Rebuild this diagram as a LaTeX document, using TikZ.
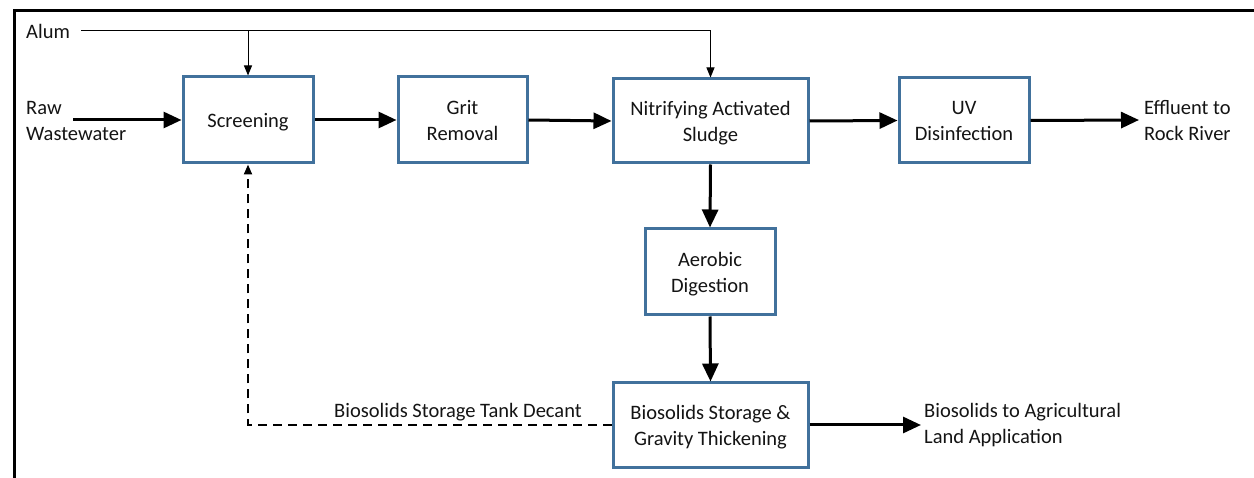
\documentclass[tikz,border=0pt]{standalone}
\usepackage{fontspec}
\setmainfont{Carlito}
\usetikzlibrary{arrows.meta,calc}
\definecolor{boxblue}{RGB}{65,113,156}
\definecolor{txt}{RGB}{20,20,20}
\tikzset{
  procbox/.style={draw=boxblue, line width=3pt, fill=white, align=center, inner sep=0pt, text=txt, text depth=0pt},
  lbl/.style={align=left, inner sep=0pt, text=txt, anchor=west},
  flow/.style={line width=3pt, -{Triangle[length=18pt,width=16pt]}},
  thinflow/.style={line width=1pt, -{Triangle[length=10pt,width=8pt]}},
  decant/.style={line width=2pt, dash pattern=on 9pt off 6pt, -{Triangle[length=10pt,width=8pt]}}
}
\begin{document}
\begin{tikzpicture}[x=1pt,y=-1pt,font=\fontsize{20.5}{26}\selectfont]
\useasboundingbox (0,0) rectangle (1254,478);
% frame
\draw[line width=3pt] (1254,11) -- (14,11) -- (14,478);
% boxes
\node[procbox, minimum width=130pt, minimum height=86pt] (scr) at (248,120) {Screening};
\node[procbox, minimum width=129pt, minimum height=86pt] (grit) at (462.5,120) {Grit\\Removal};
\node[procbox, minimum width=195pt, minimum height=84pt] (nas) at (710.5,121) {Nitrifying Activated\\Sludge};
\node[procbox, minimum width=130pt, minimum height=85pt] (uv) at (964,120.5) {UV\\Disinfection};
\node[procbox, minimum width=130pt, minimum height=86pt] (aer) at (710,272) {Aerobic\\Digestion};
\node[procbox, minimum width=195pt, minimum height=84pt] (bst) at (710.5,425) {Biosolids Storage \&\\Gravity Thickening};
% labels
\node[lbl] (alum) at (26,31) {Alum};
\node[lbl] (raw) at (26,121) {Raw\\Wastewater};
\node[lbl] (eff) at (1144,121) {Effluent to\\Rock River};
\node[lbl] (agr) at (924,425) {Biosolids to Agricultural\\Land Application};
\node[inner sep=0pt, text=txt] (dec) at (458,412) {Biosolids Storage Tank Decant};
% coordinates
\coordinate (alumstart) at (81,31);
\coordinate (alumA) at (scr.north |- alumstart);
\coordinate (alumB) at (nas.north |- alumstart);
\coordinate (rawend) at (73,120);
\coordinate (effend) at (1139,120);
\coordinate (agrend) at (921,425);
\coordinate (deccorner) at (scr.south |- bst.west);
% main flow
\draw[flow] (rawend) -- (scr.west);
\draw[flow] (scr.east) -- (grit.west);
\draw[flow] (grit.east) -- (nas.west);
\draw[flow] (nas.east) -- (uv.west);
\draw[flow] (uv.east) -- (effend);
\draw[flow] (nas.south) -- (aer.north);
\draw[flow] (aer.south) -- (bst.north);
\draw[flow] (bst.east) -- (agrend);
% alum
\draw[line width=1pt] (alumstart) -- (alumB);
\draw[thinflow] (alumA) -- (scr.north);
\draw[thinflow] (alumB) -- (nas.north);
% decant
\draw[decant] (bst.west) -- (deccorner) -- (scr.south);
\end{tikzpicture}
\end{document}
